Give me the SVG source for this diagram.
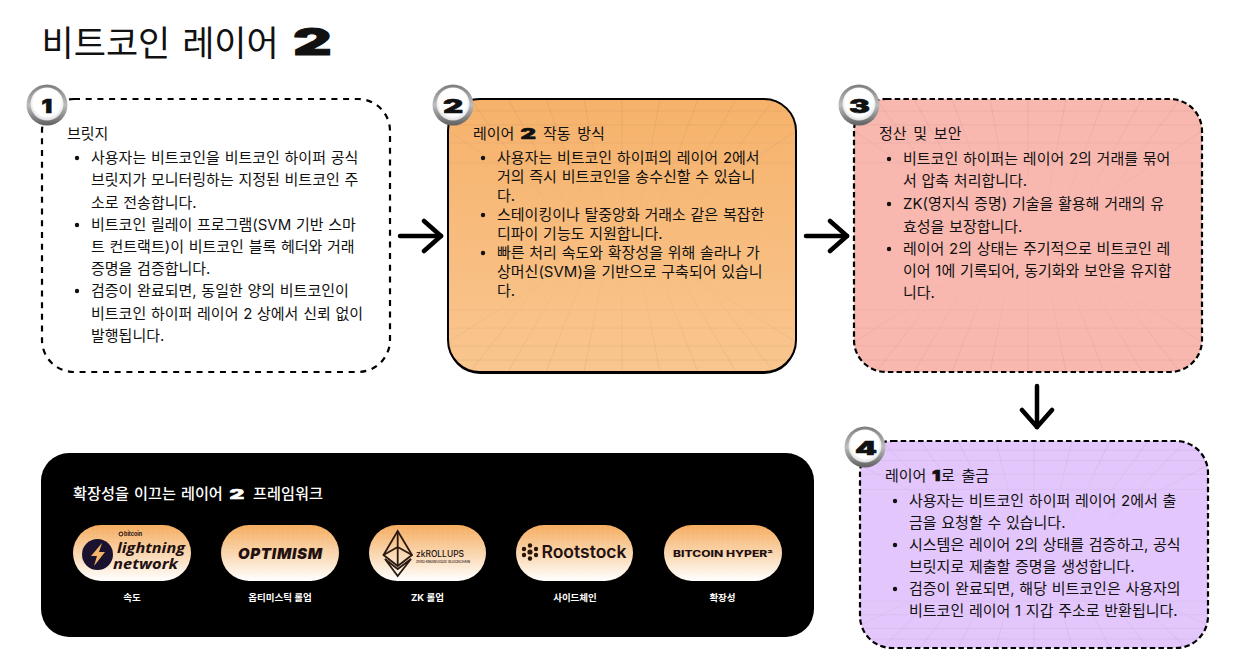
<svg xmlns="http://www.w3.org/2000/svg" xmlns:xlink="http://www.w3.org/1999/xlink" width="1257" height="659" viewBox="0 0 1257 659">
<style>
text{font-family:"Inter","Noto Sans CJK KR",sans-serif;fill:#111}
.t{font-size:15px;word-spacing:.5px}
.h{font-size:15px;word-spacing:2.500px}
.title{font-size:35px;word-spacing:2px}
.num{font-family:"Inter","Liberation Sans",sans-serif;font-weight:900;stroke:#111;stroke-width:.6px}
.w{fill:#fff}
.num.w{fill:#fff;stroke:#fff}
.lab{font-size:9.500px;font-weight:700;fill:#fff;text-anchor:middle}
.dash{stroke:#000;stroke-width:2.200;stroke-dasharray:5.500 3.200}
.wide{stroke-dasharray:6 5.700}
.b{fill:#111}
.grid{fill:none;stroke:#6b4a40;stroke-width:.7;stroke-opacity:.14}
.pill{fill:url(#pillG)}
.tex{fill:url(#pillTex)}
.logo{fill:#231010}
.ub{font-family:"Open Sans",sans-serif;font-weight:700;font-style:italic}
.arrow{fill:none;stroke:#000;stroke-width:4.500;stroke-linecap:round;marker-end:url(#head)}
.bo{fill:url(#ring)}
.bi{fill:url(#inner)}
</style>
<defs>
<marker id="head" markerUnits="userSpaceOnUse" viewBox="0 0 24 36" markerWidth="24" markerHeight="36" refX="21" refY="18" orient="auto">
<path d="M4 3 L21 18 L4 33" fill="none" stroke="#000" stroke-width="4.500" stroke-linecap="round" stroke-linejoin="round"/>
</marker>
<linearGradient id="orange" x1="0" y1="0" x2="0" y2="1"><stop offset="0" stop-color="#f6b26b"/><stop offset="1" stop-color="#f9c68f"/></linearGradient>
<linearGradient id="pillG" x1="0" y1="0" x2="0" y2="1"><stop offset="0" stop-color="#f5ab5e"/><stop offset=".55" stop-color="#fad9b4"/><stop offset="1" stop-color="#ffffff"/></linearGradient>
<pattern id="pillTex" width="5" height="5" patternUnits="userSpaceOnUse"><path d="M5 0H0V5" fill="none" stroke="#fff" stroke-opacity=".14" stroke-width=".6"/></pattern>
<linearGradient id="ring" x1="0" y1="0" x2="0" y2="1"><stop offset="0" stop-color="#7d7d7d"/><stop offset=".5" stop-color="#bdbdbd"/><stop offset="1" stop-color="#5f5f5f"/></linearGradient>
<radialGradient id="inner" cx=".5" cy=".45" r=".55"><stop offset="0" stop-color="#fff"/><stop offset=".75" stop-color="#fff"/><stop offset="1" stop-color="#dcdcdc"/></radialGradient>
<linearGradient id="fade" x1="0" y1="0" x2="0" y2="1"><stop offset="0" stop-color="#fff"/><stop offset=".34" stop-color="#fff" stop-opacity=".25"/><stop offset=".5" stop-color="#fff" stop-opacity="0"/><stop offset=".7" stop-color="#fff" stop-opacity=".2"/><stop offset="1" stop-color="#fff"/></linearGradient>
<mask id="gm" maskUnits="userSpaceOnUse" x="0" y="0" width="348" height="274"><rect width="348" height="274" fill="url(#fade)"/></mask>
<symbol id="gridS" viewBox="0 0 348 274" preserveAspectRatio="none">
<g class="grid" mask="url(#gm)">
<path d="M174 0V130M136 0L160 130M98 0L146 130M60 0L132 130M22 0L118 130M212 0L188 130M250 0L202 130M288 0L216 130M326 0L230 130M0 32L100 100M348 32L248 100"/>
<path d="M0 12H348M0 26H348M0 44H348M0 64H348"/>
<path d="M174 274V150M136 274L160 150M98 274L146 150M60 274L132 150M22 274L118 150M212 274L188 150M250 274L202 150M288 274L216 150M326 274L230 150M0 244L100 180M348 244L248 180"/>
<path d="M0 262H348M0 248H348M0 230H348M0 212H348"/>
</g>
</symbol>
<clipPath id="c2"><rect x="448" y="99" width="348" height="273" rx="32"/></clipPath>
<clipPath id="c3"><rect x="854" y="99" width="348" height="273" rx="32"/></clipPath>
<clipPath id="c4"><rect x="860" y="441" width="348" height="207" rx="32"/></clipPath>
</defs>

<rect width="1257" height="659" fill="#fff"/>

<g id="title">
<text class="title" x="41.500" y="56">비트코인 레이어</text>
<text class="num" transform="translate(293,55) scale(1.620,1)" font-size="37" style="stroke-width:1px">2</text>
</g>

<g id="connectors">
<path class="arrow" d="M400 236H441"/>
<path class="arrow" d="M806 236H847"/>
<path class="arrow" d="M1037 386V427"/>
</g>

<g id="node-1">
<rect class="dash wide" x="42" y="99" width="348" height="273" rx="32" fill="#fff"/>
<circle class="bo" cx="47" cy="105" r="20.500"/><circle class="bi" cx="47" cy="104" r="16.500"/>
<text class="num" transform="translate(41.500,113) scale(1.250,1)" font-size="19">1</text>
<text class="h" x="67" y="139">브릿지</text>
<circle class="b" cx="77" cy="158" r="2.200"/>
<text class="t" x="91" y="163">사용자는 비트코인을 비트코인 하이퍼 공식</text>
<text class="t" x="91" y="185">브릿지가 모니터링하는 지정된 비트코인 주</text>
<text class="t" x="91" y="207.500">소로 전송합니다.</text>
<circle class="b" cx="77" cy="225" r="2.200"/>
<text class="t" x="91" y="230">비트코인 릴레이 프로그램(SVM 기반 스마</text>
<text class="t" x="91" y="252">트 컨트랙트)이 비트코인 블록 헤더와 거래</text>
<text class="t" x="91" y="274">증명을 검증합니다.</text>
<circle class="b" cx="77" cy="291" r="2.200"/>
<text class="t" x="91" y="296">검증이 완료되면, 동일한 양의 비트코인이</text>
<text class="t" x="91" y="318.500">비트코인 하이퍼 레이어 2 상에서 신뢰 없이</text>
<text class="t" x="91" y="341">발행됩니다.</text>
</g>

<g id="node-2">
<rect x="448" y="101" width="348" height="273" rx="32" fill="#000"/>
<rect x="448" y="99" width="348" height="273" rx="32" fill="url(#orange)" stroke="#000" stroke-width="2"/>
<g clip-path="url(#c2)"><use href="#gridS" x="448" y="99" width="348" height="273"/></g>
<circle class="bo" cx="453" cy="105" r="20.500"/><circle class="bi" cx="453" cy="104" r="16.500"/>
<text class="num" transform="translate(443,113) scale(1.650,1)" font-size="19">2</text>
<text class="h" x="473" y="139">레이어</text>
<text class="num" transform="translate(520.500,139) scale(1.700,1)" font-size="14">2</text>
<text class="h" x="543" y="139">작동 방식</text>
<circle class="b" cx="483" cy="158" r="2.200"/>
<text class="t" x="497" y="162.500">사용자는 비트코인 하이퍼의 레이어 2에서</text>
<text class="t" x="497" y="181.500">거의 즉시 비트코인을 송수신할 수 있습니</text>
<text class="t" x="497" y="200.500">다.</text>
<circle class="b" cx="483" cy="215" r="2.200"/>
<text class="t" x="497" y="219.500">스테이킹이나 탈중앙화 거래소 같은 복잡한</text>
<text class="t" x="497" y="238.500">디파이 기능도 지원합니다.</text>
<circle class="b" cx="483" cy="253" r="2.200"/>
<text class="t" x="497" y="257.500">빠른 처리 속도와 확장성을 위해 솔라나 가</text>
<text class="t" x="497" y="276.500">상머신(SVM)을 기반으로 구축되어 있습니</text>
<text class="t" x="497" y="295.500">다.</text>
</g>

<g id="node-3">
<rect x="854" y="99" width="348" height="273" rx="32" fill="#f8b8b0"/>
<g clip-path="url(#c3)"><use href="#gridS" x="854" y="99" width="348" height="273"/></g>
<rect class="dash" x="854" y="99" width="348" height="273" rx="32" fill="none"/>
<circle class="bo" cx="859" cy="105" r="20.500"/><circle class="bi" cx="859" cy="104" r="16.500"/>
<text class="num" transform="translate(849,113) scale(1.650,1)" font-size="19">3</text>
<text class="h" x="879" y="139">정산 및 보안</text>
<circle class="b" cx="889" cy="159" r="2.200"/>
<text class="t" x="903" y="164">비트코인 하이퍼는 레이어 2의 거래를 묶어</text>
<text class="t" x="903" y="186">서 압축 처리합니다.</text>
<circle class="b" cx="889" cy="204" r="2.200"/>
<text class="t" x="903" y="209">ZK(영지식 증명) 기술을 활용해 거래의 유</text>
<text class="t" x="903" y="231.500">효성을 보장합니다.</text>
<circle class="b" cx="889" cy="249" r="2.200"/>
<text class="t" x="903" y="254">레이어 2의 상태는 주기적으로 비트코인 레</text>
<text class="t" x="903" y="276">이어 1에 기록되어, 동기화와 보안을 유지합</text>
<text class="t" x="903" y="298">니다.</text>
</g>

<g id="node-4">
<rect x="860" y="441" width="348" height="207" rx="32" fill="#e3c6fb"/>
<g clip-path="url(#c4)"><use href="#gridS" x="860" y="441" width="348" height="207"/></g>
<rect class="dash" x="860" y="441" width="348" height="207" rx="32" fill="none"/>
<circle class="bo" cx="865" cy="447" r="20.500"/><circle class="bi" cx="865" cy="446" r="16.500"/>
<text class="num" transform="translate(855,455) scale(1.650,1)" font-size="19">4</text>
<text class="h" x="885" y="481">레이어</text>
<text class="num" transform="translate(932,481) scale(1.250,1)" font-size="15">1</text>
<text class="h" x="941" y="481">로 출금</text>
<circle class="b" cx="895" cy="501" r="2.200"/>
<text class="t" x="909" y="506">사용자는 비트코인 하이퍼 레이어 2에서 출</text>
<text class="t" x="909" y="528">금을 요청할 수 있습니다.</text>
<circle class="b" cx="895" cy="545" r="2.200"/>
<text class="t" x="909" y="550">시스템은 레이어 2의 상태를 검증하고, 공식</text>
<text class="t" x="909" y="572">브릿지로 제출할 증명을 생성합니다.</text>
<circle class="b" cx="895" cy="589" r="2.200"/>
<text class="t" x="909" y="594">검증이 완료되면, 해당 비트코인은 사용자의</text>
<text class="t" x="909" y="616">비트코인 레이어 1 지갑 주소로 반환됩니다.</text>
</g>

<g id="node-frameworks">
<rect x="41" y="453" width="773" height="184" rx="28" fill="#000"/>
<text class="w" x="73" y="499" font-size="15.200" font-weight="500" word-spacing="1">확장성을 이끄는 레이어</text>
<text class="num w" transform="translate(229.500,499) scale(1.750,1)" font-size="13">2</text>
<text class="w" x="253" y="499" font-size="15.200" font-weight="500">프레임워크</text>

<g id="pill-lightning">
<rect class="pill" x="73" y="525" width="118" height="56" rx="28"/><rect class="tex" x="73" y="525" width="118" height="56" rx="28"/>
<circle cx="97.500" cy="554.500" r="15.500" fill="#1b1230"/>
<path d="M102 543L91 556H97L94 566L105 552H99Z" fill="#f5b36a"/>
<circle cx="121" cy="534" r="2" fill="none" stroke="#231010" stroke-width="1"/>
<text class="logo" x="124" y="536" font-size="6" font-weight="700" textLength="18" lengthAdjust="spacingAndGlyphs">bitcoin</text>
<text class="logo ub" x="117" y="552.500" font-size="14" textLength="68" lengthAdjust="spacingAndGlyphs">lightning</text>
<text class="logo ub" x="113" y="569" font-size="14" textLength="65" lengthAdjust="spacingAndGlyphs">network</text>
</g>
<text class="lab" x="132" y="601">속도</text>

<g id="pill-optimism">
<rect class="pill" x="221" y="525" width="118" height="56" rx="28"/><rect class="tex" x="221" y="525" width="118" height="56" rx="28"/>
<text class="logo" x="238" y="559" font-size="15" font-weight="900" font-style="italic" textLength="84" lengthAdjust="spacing">OPTIMISM</text>
</g>
<text class="lab" x="280" y="601">옵티미스틱 롤업</text>

<g id="pill-zk">
<rect class="pill" x="369" y="525" width="117" height="56" rx="28"/><rect class="tex" x="369" y="525" width="117" height="56" rx="28"/>
<g fill="none" stroke="#2a1a12" stroke-width="1.800" stroke-linejoin="miter">
<path d="M397.700 531L383.500 555L397.700 566L412 555Z"/><path d="M397.700 531V566M383.500 555L397.700 547L412 555"/>
<path d="M385 559L397.700 576L411 559L397.700 569Z"/>
</g>
<text class="logo" x="416" y="557" font-size="9" font-weight="500" textLength="48" lengthAdjust="spacingAndGlyphs">zkROLLUPS</text>
<text class="logo" x="416" y="562.500" font-size="3.300" font-weight="500" textLength="54" lengthAdjust="spacingAndGlyphs">ZERO KNOWLEDGE BLOCKCHAIN</text>
</g>
<text class="lab" x="427.500" y="601">ZK 롤업</text>

<g id="pill-rootstock">
<rect class="pill" x="516" y="525" width="117" height="56" rx="28"/><rect class="tex" x="516" y="525" width="117" height="56" rx="28"/>
<g fill="#2a1608"><circle cx="530" cy="552" r="2.600"/><circle cx="530" cy="545.500" r="2.200"/><circle cx="530" cy="558.500" r="2.200"/><circle cx="524" cy="549" r="2.200"/><circle cx="536" cy="549" r="2.200"/><circle cx="524" cy="555" r="2.200"/><circle cx="536" cy="555" r="2.200"/></g>
<text class="logo" x="541.500" y="558" font-size="17.500" font-weight="600" textLength="85" lengthAdjust="spacingAndGlyphs">Rootstock</text>
</g>
<text class="lab" x="575" y="601">사이드체인</text>

<g id="pill-hyper">
<rect class="pill" x="664" y="525" width="118" height="56" rx="28"/><rect class="tex" x="664" y="525" width="118" height="56" rx="28"/>
<text class="logo" x="673" y="557" font-size="8.500" font-weight="800" textLength="100" lengthAdjust="spacingAndGlyphs">BITCOIN HYPER²</text>
</g>
<text class="lab" x="722.500" y="601">확장성</text>
</g>
</svg>
